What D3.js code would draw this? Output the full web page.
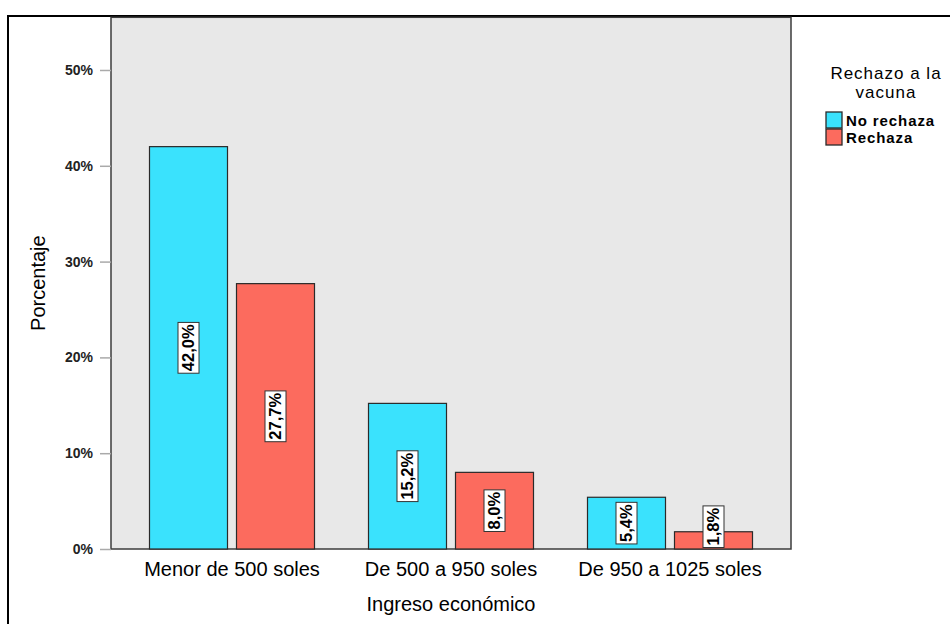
<!DOCTYPE html>
<html>
<head>
<meta charset="utf-8">
<script src="https://cdn.jsdelivr.net/npm/d3@7"></script>
<style>
  html, body { margin: 0; padding: 0; background: #fff; }
  svg { display: block; font-family: Arial, "Liberation Sans", sans-serif; }
</style>
</head>
<body>
<svg id="chart" width="950" height="624"></svg>
<script>
const categories = ["Menor de 500 soles", "De 500 a 950 soles", "De 950 a 1025 soles"];
const seriesNames = ["No rechaza", "Rechaza"];
const noRechaza = [42.0, 15.2, 5.4];
const rechaza = [27.7, 8.0, 1.8];
const yTicks = [0, 10, 20, 30, 40, 50];
const colors = ["#3ae2fd", "#fc6b5e"];

const seriesValues = [noRechaza, rechaza];
const fmt = v => v.toFixed(1).replace(".", ",") + "%";

const svg = d3.select("#chart");

// outer frame
svg.append("rect")
  .attr("x", 8).attr("y", 16).attr("width", 960).attr("height", 640)
  .attr("fill", "none").attr("stroke", "#000").attr("stroke-width", 2);

const plot = { left: 111, right: 791, top: 17.3, bottom: 549 };

const y = d3.scaleLinear().domain([0, 55.5]).range([plot.bottom, plot.top]);
const x0 = d3.scaleBand().domain(categories).range([122.5, 779.5]).padding(0);
const x1 = d3.scaleBand().domain(seriesNames).range([0, 165]).paddingInner(9 / 87).paddingOuter(0);
const groupOffset = (x0.bandwidth() - 165) / 2;

// plot background
svg.append("rect")
  .attr("x", plot.left).attr("y", plot.top)
  .attr("width", plot.right - plot.left).attr("height", plot.bottom - plot.top)
  .attr("fill", "#e8e8e8").attr("stroke", "#3c3c3c").attr("stroke-width", 1.5);

// y axis
const yAxis = d3.axisLeft(y).tickValues(yTicks).tickFormat(d => d + "%").tickSize(11).tickPadding(7);
const gy = svg.append("g").attr("transform", `translate(${plot.left},0)`).call(yAxis);
gy.select(".domain").remove();
gy.selectAll(".tick line").attr("stroke", "#aaaaaa").attr("stroke-width", 1.5);
gy.selectAll(".tick text").attr("fill", "#222").style("font-size", "14px").style("font-weight", "bold");

// x axis labels
const xAxis = d3.axisBottom(x0).tickSize(0).tickPadding(10);
const gx = svg.append("g").attr("transform", `translate(0,${plot.bottom})`).call(xAxis);
gx.select(".domain").remove();
gx.selectAll(".tick text").attr("fill", "#000").style("font-size", "20px").attr("dy", "0.85em");

// bars
const groups = svg.append("g").selectAll("g.grp")
  .data(categories).join("g")
  .attr("transform", c => `translate(${x0(c) + groupOffset},0)`);

const barData = (c, i) => seriesNames.map((s, k) => ({ cat: c, series: s, k, value: seriesValues[k][i] }));

groups.each(function (c, i) {
  const g = d3.select(this);
  const data = barData(c, i);
  g.selectAll("rect.bar").data(data).join("rect")
    .attr("class", "bar")
    .attr("x", d => x1(d.series))
    .attr("y", d => y(d.value))
    .attr("width", x1.bandwidth())
    .attr("height", d => y(0) - y(d.value))
    .attr("fill", d => colors[d.k])
    .attr("stroke", "#2a2a2a").attr("stroke-width", 1.2);

  // value labels
  data.forEach(d => {
    const cx = x1(d.series) + x1.bandwidth() / 2;
    const lbl = g.append("g");
    const t = lbl.append("text")
      .attr("text-anchor", "middle")
      .attr("dy", "0.36em")
      .style("font-size", "16.5px").style("font-weight", "bold")
      .attr("fill", "#000")
      .text(fmt(d.value));
    const len = t.node().getComputedTextLength();
    const boxH = len + 4, boxW = 21;
    let cy = (y(d.value) + y(0)) / 2;
    cy = Math.min(cy, y(0) - boxH / 2 - 1.5);
    lbl.insert("rect", "text")
      .attr("x", -boxH / 2).attr("y", -boxW / 2)
      .attr("width", boxH).attr("height", boxW)
      .attr("fill", "#fff").attr("stroke", "#333").attr("stroke-width", 1);
    lbl.attr("transform", `translate(${cx},${cy}) rotate(-90)`);
  });
});

// axis titles
svg.append("text")
  .attr("transform", `translate(45,${(plot.top + plot.bottom) / 2}) rotate(-90)`)
  .attr("text-anchor", "middle")
  .style("font-size", "20px").attr("fill", "#000")
  .text("Porcentaje");

svg.append("text")
  .attr("x", (plot.left + plot.right) / 2).attr("y", 611)
  .attr("text-anchor", "middle")
  .style("font-size", "20px").attr("fill", "#000")
  .text("Ingreso económico");

// legend
const legend = svg.append("g");
legend.append("text").attr("x", 886).attr("y", 79).attr("text-anchor", "middle")
  .style("font-size", "17px").style("letter-spacing", "1px").attr("fill", "#000").text("Rechazo a la");
legend.append("text").attr("x", 886).attr("y", 98).attr("text-anchor", "middle")
  .style("font-size", "17px").style("letter-spacing", "1px").attr("fill", "#000").text("vacuna");

const items = legend.selectAll("g.item").data(seriesNames).join("g")
  .attr("transform", (d, i) => `translate(826,${112 + i * 17})`);
items.append("rect").attr("width", 16).attr("height", 16)
  .attr("fill", (d, i) => colors[i]).attr("stroke", "#2a2a2a").attr("stroke-width", 1.3);
items.append("text").attr("x", 20).attr("y", 14)
  .style("font-size", "15px").style("letter-spacing", "0.9px").style("font-weight", "bold").attr("fill", "#000")
  .text(d => d);
</script>
</body>
</html>
